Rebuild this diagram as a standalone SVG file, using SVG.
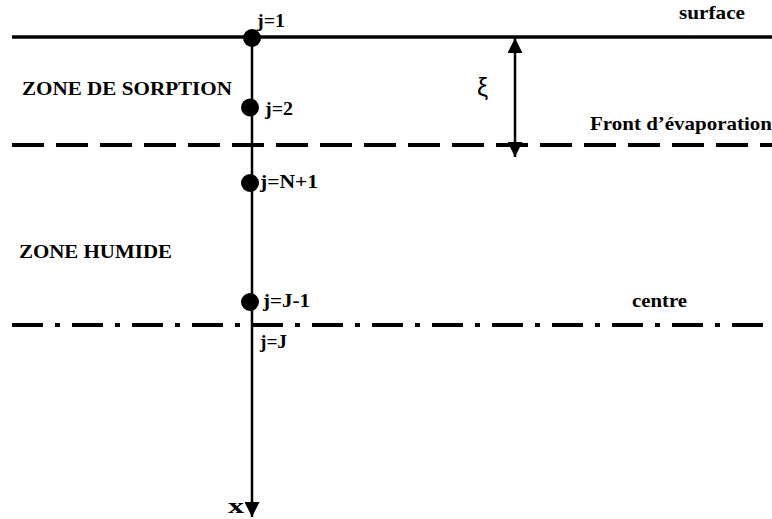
<svg xmlns="http://www.w3.org/2000/svg" width="772" height="519" viewBox="0 0 772 519">
  <style>
    .lbl { font-family: "Liberation Serif", "Times New Roman", serif; font-weight: bold; font-size: 19.5px; fill: #000; }
    .sym { font-family: "Liberation Sans", Arial, sans-serif; font-size: 25px; fill: #000; }
    .surf { stroke: #000; stroke-width: 3.5; fill: none; }
    .front { stroke: #000; stroke-width: 4; fill: none; stroke-dasharray: 32 12; }
    .centre { stroke: #000; stroke-width: 4; fill: none; stroke-dasharray: 31 12 5 12; }
    .axis { stroke: #000; stroke-width: 2.5; fill: none; }
    .pt { fill: #000; }
  </style>
  <defs>
    <marker id="head" viewBox="0 0 15 15" refX="15" refY="7.5" markerWidth="15" markerHeight="15" markerUnits="userSpaceOnUse" orient="auto-start-reverse">
      <path d="M0,0 L15,7.5 L0,15 Z" fill="#000"/>
    </marker>
  </defs>

  <!-- reference levels -->
  <g id="levels">
    <line class="surf" x1="12" y1="37" x2="772" y2="37"/>
    <line class="front" x1="12" y1="145" x2="772" y2="145"/>
    <line class="centre" x1="12" y1="325" x2="772" y2="325"/>
  </g>

  <!-- connectors: depth axis and front depth -->
  <g id="connectors">
    <line class="axis" x1="252" y1="37" x2="252" y2="517" marker-end="url(#head)"/>
    <line class="axis" x1="515" y1="38" x2="515" y2="157" marker-start="url(#head)" marker-end="url(#head)"/>
  </g>

  <!-- grid nodes -->
  <g id="node-j1">
    <circle class="pt" cx="252" cy="38" r="9"/>
    <text class="lbl" x="257" y="27" textLength="28" lengthAdjust="spacingAndGlyphs">j=1</text>
  </g>
  <g id="node-j2">
    <circle class="pt" cx="250" cy="107.5" r="9"/>
    <text class="lbl" x="265" y="115" textLength="28" lengthAdjust="spacingAndGlyphs">j=2</text>
  </g>
  <g id="node-jN1">
    <circle class="pt" cx="250" cy="183" r="9"/>
    <text class="lbl" x="260" y="188" textLength="58" lengthAdjust="spacingAndGlyphs">j=N+1</text>
  </g>
  <g id="node-jJ1">
    <circle class="pt" cx="250" cy="302" r="9"/>
    <text class="lbl" x="263" y="307" textLength="47" lengthAdjust="spacingAndGlyphs">j=J-1</text>
  </g>
  <g id="node-jJ">
    <text class="lbl" x="260" y="348" textLength="27" lengthAdjust="spacingAndGlyphs">j=J</text>
  </g>

  <!-- zone and level labels -->
  <g id="labels">
    <text class="lbl" x="22" y="95" textLength="210" lengthAdjust="spacingAndGlyphs">ZONE DE SORPTION</text>
    <text class="lbl" x="19" y="258" textLength="153" lengthAdjust="spacingAndGlyphs">ZONE HUMIDE</text>
    <text class="lbl" x="679" y="19" textLength="66" lengthAdjust="spacingAndGlyphs">surface</text>
    <text class="lbl" x="590" y="130" textLength="182" lengthAdjust="spacingAndGlyphs">Front d’évaporation</text>
    <text class="lbl" x="632" y="307" textLength="55" lengthAdjust="spacingAndGlyphs">centre</text>
    <text class="lbl" x="228" y="513" textLength="16" lengthAdjust="spacingAndGlyphs" style="font-size:21px">x</text>
    <text class="sym" x="477" y="96">ξ</text>
  </g>
</svg>
